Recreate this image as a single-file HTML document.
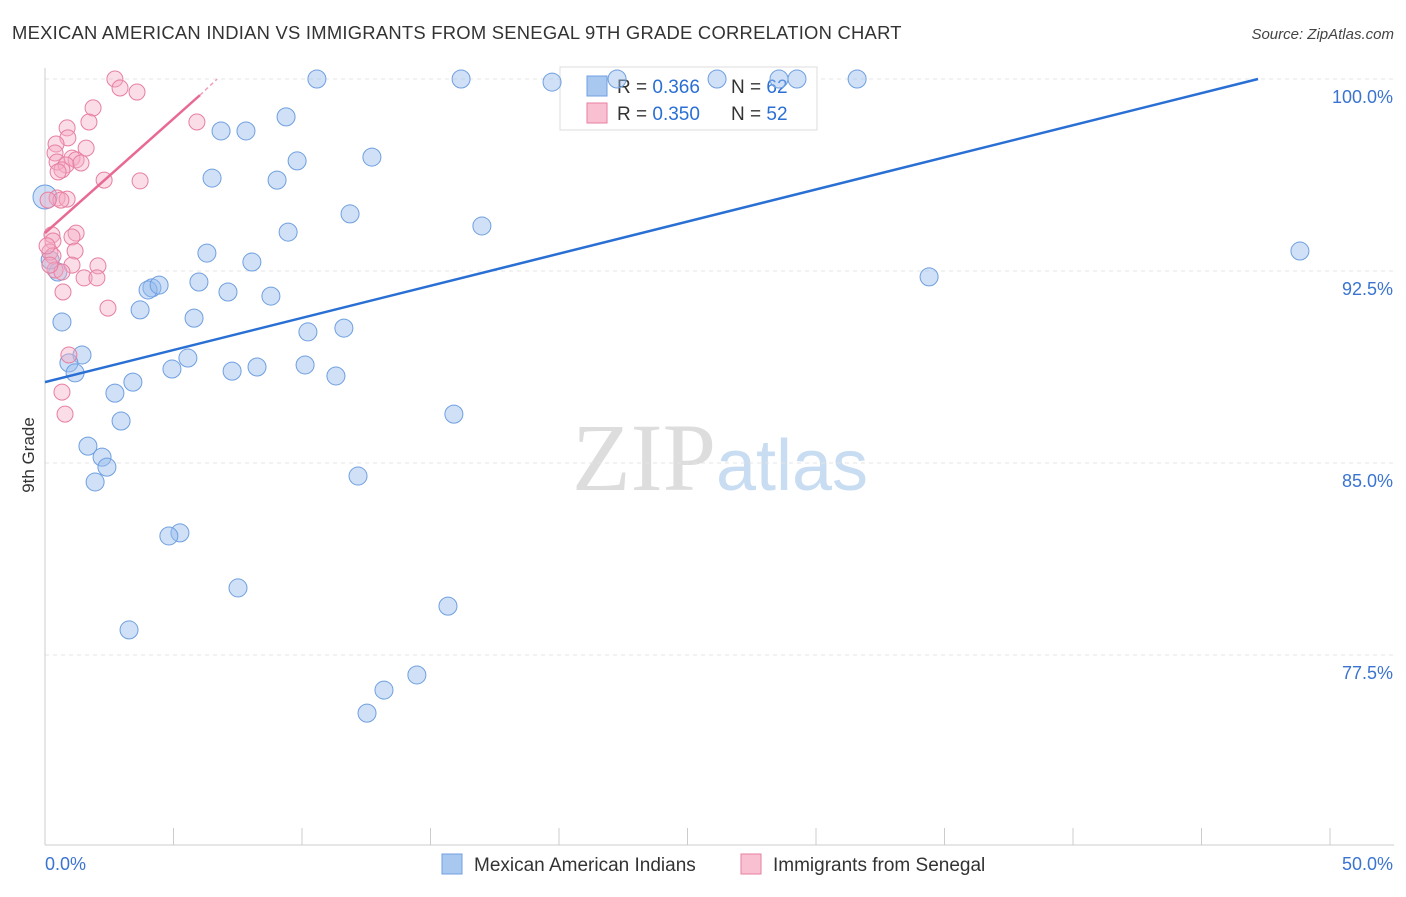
<!DOCTYPE html>
<html><head><meta charset="utf-8"><style>
body{margin:0;background:#fff;font-family:"Liberation Sans",sans-serif}
svg text{font-family:"Liberation Sans",sans-serif}
</style></head><body>
<svg id="chart" width="1406" height="892" xmlns="http://www.w3.org/2000/svg">
<text x="12" y="39" font-size="18.4" letter-spacing="0.25" fill="#333">MEXICAN AMERICAN INDIAN VS IMMIGRANTS FROM SENEGAL 9TH GRADE CORRELATION CHART</text>
<text x="1394" y="39" font-size="15" fill="#444" text-anchor="end" font-style="italic">Source: ZipAtlas.com</text>
<text x="720" y="490" font-size="96" text-anchor="middle"><tspan fill="#ddd" font-family="Liberation Serif">ZIP</tspan><tspan fill="#c8dcf2" font-size="72">atlas</tspan></text>
<g id="grid"></g><g id="axes"></g>
<g>
<rect x="560" y="67" width="257" height="63" fill="#fff" stroke="#ddd"/>
<rect x="587" y="76" width="20" height="20" fill="#a9c8f0" stroke="#6f9fe0"/>
<text x="617" y="93" font-size="19" fill="#333">R = <tspan fill="#2a6fd4">0.366</tspan></text>
<text x="731" y="93" font-size="19" fill="#333">N = <tspan fill="#2a6fd4">62</tspan></text>
<rect x="587" y="103" width="20" height="20" fill="#f8c0d0" stroke="#e77fa0"/>
<text x="617" y="120" font-size="19" fill="#333">R = <tspan fill="#2a6fd4">0.350</tspan></text>
<text x="731" y="120" font-size="19" fill="#333">N = <tspan fill="#2a6fd4">52</tspan></text>
</g>
<g id="pts"></g><g id="lines"></g>
<text transform="translate(34,455) rotate(-90)" font-size="17" fill="#333" text-anchor="middle">9th Grade</text>
<g>
<rect x="442" y="854" width="20" height="20" fill="#a9c8f0" stroke="#6f9fe0"/>
<text x="474" y="871" font-size="19" fill="#333">Mexican American Indians</text>
<rect x="741" y="854" width="20" height="20" fill="#f8c0d0" stroke="#e77fa0"/>
<text x="773" y="871" font-size="19" fill="#333">Immigrants from Senegal</text>
</g>
</svg>
<script>
const blueX=[10.58,16.19,19.73,22.26,26.15,28.56,29.26,31.60,9.38,6.85,7.82,9.81,12.72,6.50,9.03,11.87,17.00,9.46,6.30,8.05,48.83,34.40,5.99,4.16,4.01,4.44,7.12,8.79,3.70,5.80,0.66,11.63,10.23,1.44,0.93,5.56,1.17,4.94,7.28,8.25,10.12,11.32,3.42,2.72,2.96,15.91,1.67,2.22,2.41,1.95,12.18,5.25,4.82,7.51,15.68,3.27,14.47,13.19,12.53,0,0.5,0.2];
const blueY=[100,100,99.88,100,100,100,100,100,98.52,97.97,97.97,96.80,96.95,96.13,96.05,94.73,94.26,94.02,93.20,92.85,93.28,92.27,92.07,91.84,91.76,91.95,91.68,91.52,90.98,90.66,90.51,90.27,90.12,89.22,88.91,89.10,88.52,88.67,88.59,88.75,88.83,88.40,88.16,87.73,86.64,86.91,85.66,85.23,84.84,84.26,84.49,82.27,82.15,80.12,79.41,78.48,76.72,76.13,75.23,95.39,92.46,92.93];
const pinkX=[2.72,2.92,3.58,1.87,1.71,0.86,0.89,5.91,0.43,1.60,0.39,1.05,1.21,0.47,0.82,0.66,0.51,2.30,3.70,0.47,0.86,0.62,0.12,0.27,1.21,1.05,0.31,1.17,0.19,0.31,2.06,1.05,0.39,0.66,1.52,2.02,0.70,2.45,0.93,0.66,0.78,0.19,0.08,1.40];
const pinkY=[100,99.65,99.49,98.87,98.32,98.09,97.70,98.32,97.46,97.30,97.11,96.91,96.84,96.76,96.64,96.45,96.37,96.05,96.02,95.35,95.31,95.27,95.27,93.91,93.98,93.83,93.67,93.28,93.24,93.09,92.70,92.73,92.54,92.46,92.23,92.23,91.68,91.05,89.22,87.77,86.91,92.73,93.48,96.72];
const yTicks=[100,92.5,85,77.5];
const yTickLabels=["100.0%","92.5%","85.0%","77.5%"];
const xTicks=[0,5,10,15,20,25,30,35,40,45,50];
const blueTrend=[[0,88.16],[47.2,100]];
const pinkTrend=[[0,93.98],[6.03,99.37],[6.7,100]];
const NS="http://www.w3.org/2000/svg";
const sx=v=>45+v*25.7, sy=v=>79+(100-v)*25.6;
function mk(tag,attrs,parent){const e=document.createElementNS(NS,tag);for(const k in attrs)e.setAttribute(k,attrs[k]);document.getElementById(parent).appendChild(e);return e;}
yTicks.forEach((t,i)=>{
 const l=mk('line',{x1:45,x2:1394,y1:sy(t),y2:sy(t),stroke:'#e4e4e4','stroke-dasharray':'4,4'},'grid');
 
 
 const tx=mk('text',{x:1393,y:sy(t)+24,'font-size':18,fill:'#3a74d0','text-anchor':'end'},'grid');
 tx.textContent=yTickLabels[i];
 
 
});
const ax=mk('line',{x1:45,x2:1394,y1:845,y2:845,stroke:'#ccc'},'axes');


const ay=mk('line',{x1:45,x2:45,y1:68,y2:845,stroke:'#ccc'},'axes');


xTicks.forEach(t=>{const l=mk('line',{x1:sx(t),x2:sx(t),y1:828,y2:845,stroke:'#ccc'},'axes');
 
 });
const xl0=mk('text',{x:45,y:870,'font-size':18,fill:'#3a74d0'},'axes');xl0.textContent='0.0%';


const xl1=mk('text',{x:1393,y:870,'font-size':18,fill:'#3a74d0','text-anchor':'end'},'axes');xl1.textContent='50.0%';


blueX.forEach((x,i)=>{const c=mk('circle',{cx:sx(x),cy:sy(blueY[i]),r:(x===0?12:9),fill:'rgba(150,188,238,0.45)',stroke:'#6f9fe0','stroke-width':1},'pts');
 
 });
pinkX.forEach((x,i)=>{const c=mk('circle',{cx:sx(x),cy:sy(pinkY[i]),r:8,fill:'rgba(245,170,195,0.4)',stroke:'#e77fa0','stroke-width':1},'pts');
 
 });
const bl=mk('line',{x1:sx(blueTrend[0][0]),y1:sy(blueTrend[0][1]),x2:sx(blueTrend[1][0]),y2:sy(blueTrend[1][1]),stroke:'#2a6fd4','stroke-width':2.5},'lines');


const pl=mk('line',{x1:sx(pinkTrend[0][0]),y1:sy(pinkTrend[0][1]),x2:sx(pinkTrend[1][0]),y2:sy(pinkTrend[1][1]),stroke:'#e86a92','stroke-width':2.5},'lines');


const pd=mk('line',{x1:sx(pinkTrend[1][0]),y1:sy(pinkTrend[1][1]),x2:sx(pinkTrend[2][0]),y2:sy(pinkTrend[2][1]),stroke:'#f0a0b8','stroke-width':1.5,'stroke-dasharray':'4,3'},'lines');


</script>
</body></html>
